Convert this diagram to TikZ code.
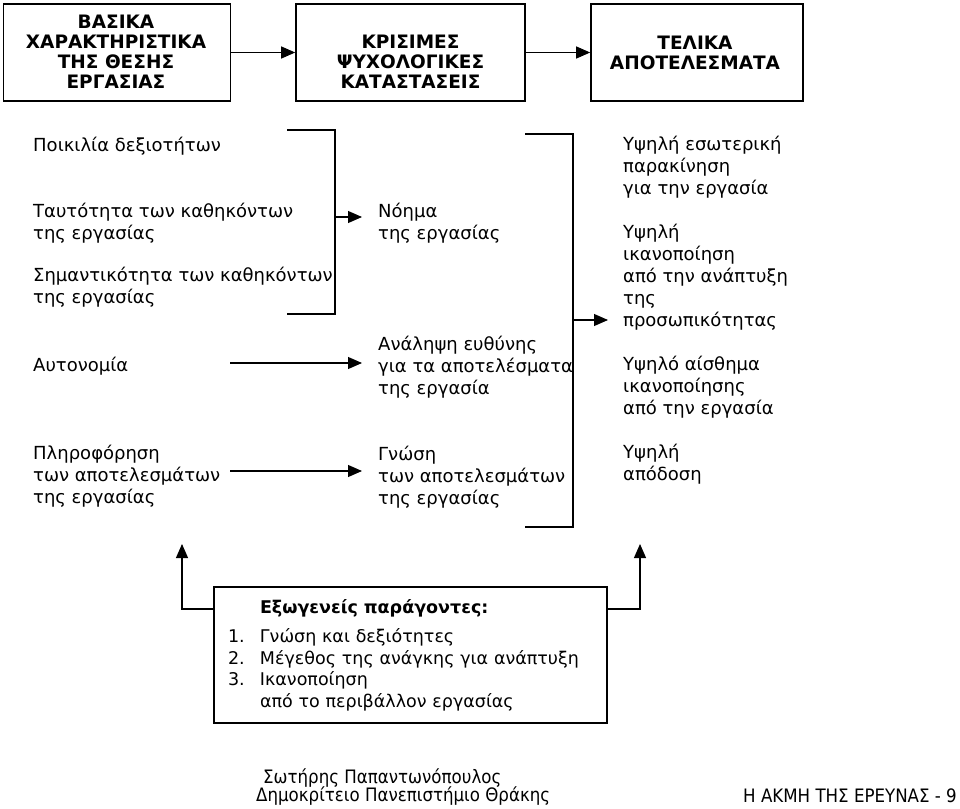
\documentclass[tikz,border=0pt]{standalone}
\usepackage{fontspec}
\setmainfont{DejaVu Sans}
\newfontfamily\hfont{DejaVu Sans}
\newfontfamily\ffont{DejaVu Sans}[FakeStretch=0.9]
\usetikzlibrary{arrows.meta}
\begin{document}
\begin{tikzpicture}[x=1pt,y=-1pt,
  hbox/.style={draw, line width=1.6pt, inner sep=0pt},
  htext/.style={font=\hfont\fontsize{18.5}{20}\selectfont\bfseries, align=center, inner sep=0pt},
  txt/.style={font=\fontsize{18}{22}\selectfont, align=left, inner sep=0pt, anchor=west, yshift=-2pt,
    execute at begin node=\strut, execute at end node=\strut},
  mid/.style={txt, inner xsep=16pt},
  rgt/.style={txt, inner xsep=15pt},
  ff/.style={font=\ffont\fontsize{18.5}{21}\selectfont, inner sep=0pt},
  ln/.style={line width=1.1pt},
  arr/.style={line width=1.1pt, -{Triangle[length=14pt,width=12pt]}},
]
\useasboundingbox (0,0) rectangle (960,808);

% header boxes
\node[hbox, minimum width=227pt, minimum height=97pt] (b1) at (117,52.5) {};
\node[hbox, minimum width=229pt, minimum height=97pt] (b2) at (410.5,52.5) {};
\node[hbox, minimum width=212pt, minimum height=97pt] (b3) at (697,52.5) {};
\node[htext] (t1) at (116,52) {ΒΑΣΙΚΑ\\ΧΑΡΑΚΤΗΡΙΣΤΙΚΑ\\ΤΗΣ ΘΕΣΗΣ\\ΕΡΓΑΣΙΑΣ};
\node[htext] (t2) at (410.5,62) {ΚΡΙΣΙΜΕΣ\\ΨΥΧΟΛΟΓΙΚΕΣ\\ΚΑΤΑΣΤΑΣΕΙΣ};
\node[htext] (t3) at (695,53) {ΤΕΛΙΚΑ\\ΑΠΟΤΕΛΕΣΜΑΤΑ};
\draw[arr] (b1) -- (b2);
\draw[arr] (b2) -- (b3);

% left column
\node[txt] (c1) at (33,145) {Ποικιλία δεξιοτήτων};
\node[txt] (c2) at (33,223) {Ταυτότητα των καθηκόντων\\της εργασίας};
\node[txt] (c3) at (33,287) {Σημαντικότητα των καθηκόντων\\της εργασίας};
\node[txt] (c4) at (33,365) {Αυτονομία};
\node[txt] (c5) at (33,476) {Πληροφόρηση\\των αποτελεσμάτων\\της εργασίας};

% middle column
\node[mid] (m1) at (362,223) {Νόημα\\της εργασίας};
\node[mid] (m2) at (362,367) {Ανάληψη ευθύνης\\για τα αποτελέσματα\\της εργασία};
\node[mid] (m3) at (362,477) {Γνώση\\των αποτελεσμάτων\\της εργασίας};

% right column
\node[rgt] (r1) at (608,167) {Υψηλή εσωτερική\\παρακίνηση\\για την εργασία};
\node[rgt] (r2) at (608,277) {Υψηλή\\ικανοποίηση\\από την ανάπτυξη\\της\\προσωπικότητας};
\node[rgt] (r3) at (608,387) {Υψηλό αίσθημα\\ικανοποίησης\\από την εργασία};
\node[rgt] (r4) at (608,464) {Υψηλή\\απόδοση};

% left bracket
\coordinate (l1) at (287,130);
\coordinate (l2) at (335,130);
\coordinate (l3) at (335,314);
\coordinate (l4) at (287,314);
\draw[ln] (l1) -- (l2) -- (l3) -- (l4);
\coordinate (lb) at (335,217);
\draw[arr] (lb) -- (lb -| m1.west);

% straight arrows
\coordinate (s4) at (230,363);
\draw[arr] (s4) -- (s4 -| m2.west);
\coordinate (s5) at (230,471);
\draw[arr] (s5) -- (s5 -| m3.west);

% right bracket
\coordinate (k1) at (525,134);
\coordinate (k2) at (573,134);
\coordinate (k3) at (573,527);
\coordinate (k4) at (525,527);
\draw[ln] (k1) -- (k2) -- (k3) -- (k4);
\coordinate (rb) at (573,320);
\draw[arr] (rb) -- (rb -| r2.west);

% external factors box
\node[draw, line width=1.3pt, minimum height=136pt, text width=365pt, align=left,
      inner xsep=14pt, inner ysep=0pt, font=\fontsize{17.5}{21.5}\selectfont] (ext) at (410.5,655)
  {\hspace*{32pt}\textbf{Εξωγενείς παράγοντες:}\\[8pt]
   \makebox[32pt][l]{1.}Γνώση και δεξιότητες\\
   \makebox[32pt][l]{2.}Μέγεθος της ανάγκης για ανάπτυξη\\
   \makebox[32pt][l]{3.}Ικανοποίηση\\
   \hspace*{32pt}από το περιβάλλον εργασίας};
\coordinate (lt) at (182,544);
\coordinate (rt) at (640,544);
\draw[arr] ([yshift=46pt]ext.west) -| (lt);
\draw[arr] ([yshift=46pt]ext.east) -| (rt);

% footer
\node[ff, anchor=west] (f1) at (263,778) {Σωτήρης Παπαντωνόπουλος};
\node[ff, anchor=west] (f2) at (256,796) {Δημοκρίτειο Πανεπιστήμιο Θράκης};
\node[ff, anchor=east] (f3) at (957,796) {Η ΑΚΜΗ ΤΗΣ ΕΡΕΥΝΑΣ - 9};
\end{tikzpicture}
\end{document}
